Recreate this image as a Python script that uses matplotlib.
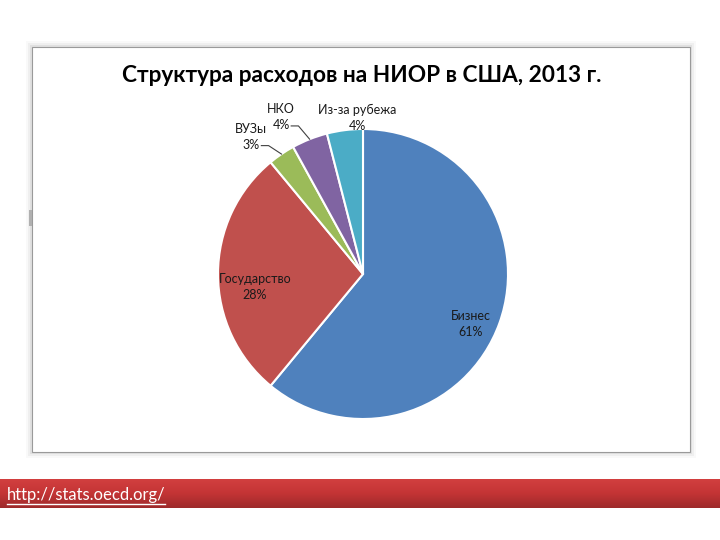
import numpy as np
import matplotlib.pyplot as plt
from matplotlib.patches import Rectangle
from matplotlib.colors import LinearSegmentedColormap

plt.rcParams["font.family"] = ["Lato", "DejaVu Sans"]

categories = ["Бизнес", "Государство", "ВУЗы", "НКО", "Из-за рубежа"]
shares = [61, 28, 3, 4, 4]
colors = ["#4F81BD", "#C0504D", "#9BBB59", "#8064A2", "#4BACC6"]
title = "Структура расходов на НИОР в США, 2013 г."
source = "http://stats.oecd.org/"

fig = plt.figure(figsize=(7.2, 5.4), dpi=100)
fig.patch.set_facecolor("white")

# chart frame with soft shadow
W, H = 720, 540
for i, a in enumerate([0.025, 0.04, 0.06]):
    off = 6 - 2 * i
    fig.patches.append(Rectangle(((32 - off) / W, (540 - 452 - off) / H),
                                 (658 + 2 * off) / W, (405 + 2 * off) / H,
                                 transform=fig.transFigure, facecolor="black",
                                 alpha=a, edgecolor="none", zorder=0))
fig.patches.append(Rectangle((32 / W, (540 - 452) / H), 658 / W, 405 / H,
                             transform=fig.transFigure, facecolor="white",
                             edgecolor="#9a9a9a", linewidth=0.8, zorder=1))
# small handle mark on the left edge of the frame
fig.patches.append(Rectangle((29 / W, (540 - 226) / H), 3 / W, 16 / H,
                             transform=fig.transFigure, facecolor="#b0b0b0",
                             edgecolor="none", zorder=2))

fig.text(362 / W, 1 - 76 / H, title, ha="center", va="center",
         fontsize=16.3, fontweight="bold", color="black", zorder=5)

# pie
R = 145
ax = fig.add_axes([(363 - 1.2 * R) / W, (266 - 1.2 * R) / H,
                   2.4 * R / W, 2.4 * R / H])
ax.set_zorder(3)
ax.patch.set_visible(False)
wedges, _ = ax.pie(shares, colors=colors, startangle=90, counterclock=False,
                   radius=1.0, wedgeprops=dict(edgecolor="white", linewidth=1.5))
ax.set_xlim(-1.2, 1.2)
ax.set_ylim(-1.2, 1.2)
ax.axis("off")

label_font = dict(fontsize=9, color="#1a1a1a", ha="center", va="center")
for w, name, val in zip(wedges, categories, shares):
    mid = np.deg2rad((w.theta1 + w.theta2) / 2)
    txt = f"{name}\n{val}%"
    if val > 10:
        r = 0.82 if name == "Бизнес" else 0.75
        ang = mid - np.deg2rad(5) if name == "Бизнес" else mid + np.deg2rad(7)
        ax.text(r * np.cos(ang), r * np.sin(ang), txt, linespacing=1.4,
                **label_font)
    elif name == "Из-за рубежа":
        ax.text(1.08 * np.cos(mid - np.deg2rad(5)), 1.08 * np.sin(mid - np.deg2rad(5)),
                txt, linespacing=1.4, **label_font)
    else:
        shift = 5 if name == "ВУЗы" else 6
        tx = 1.22 * np.cos(mid + np.deg2rad(shift))
        ty = 1.22 * np.sin(mid + np.deg2rad(shift))
        ax.text(tx, ty, txt, linespacing=1.4, **label_font)
        ex, ey = 1.0 * np.cos(mid), 1.0 * np.sin(mid)
        kx, ky = tx + 0.12, ty - 0.06
        ax.plot([tx + 0.07, kx, ex], [ky, ky, ey], color="#404040",
                linewidth=0.8, clip_on=False)

# source banner
bax = fig.add_axes([0, (540 - 508) / H, 1, 29 / H])
grad = np.linspace(0, 1, 50)[:, None]
cmap = LinearSegmentedColormap.from_list("banner", ["#d23f3f", "#c33435", "#9e2a2b"])
bax.imshow(grad, aspect="auto", cmap=cmap, extent=[0, 1, 0, 1], origin="upper")
bax.axis("off")
t = bax.text(0.01, 0.45, source, color="white", fontsize=12, ha="left",
             va="center", transform=bax.transAxes)
t.set_url(source)
bax.plot([0.01, 0.229], [0.13, 0.13], color="white", linewidth=1,
         transform=bax.transAxes)

fig.savefig("out.png", dpi=100)
